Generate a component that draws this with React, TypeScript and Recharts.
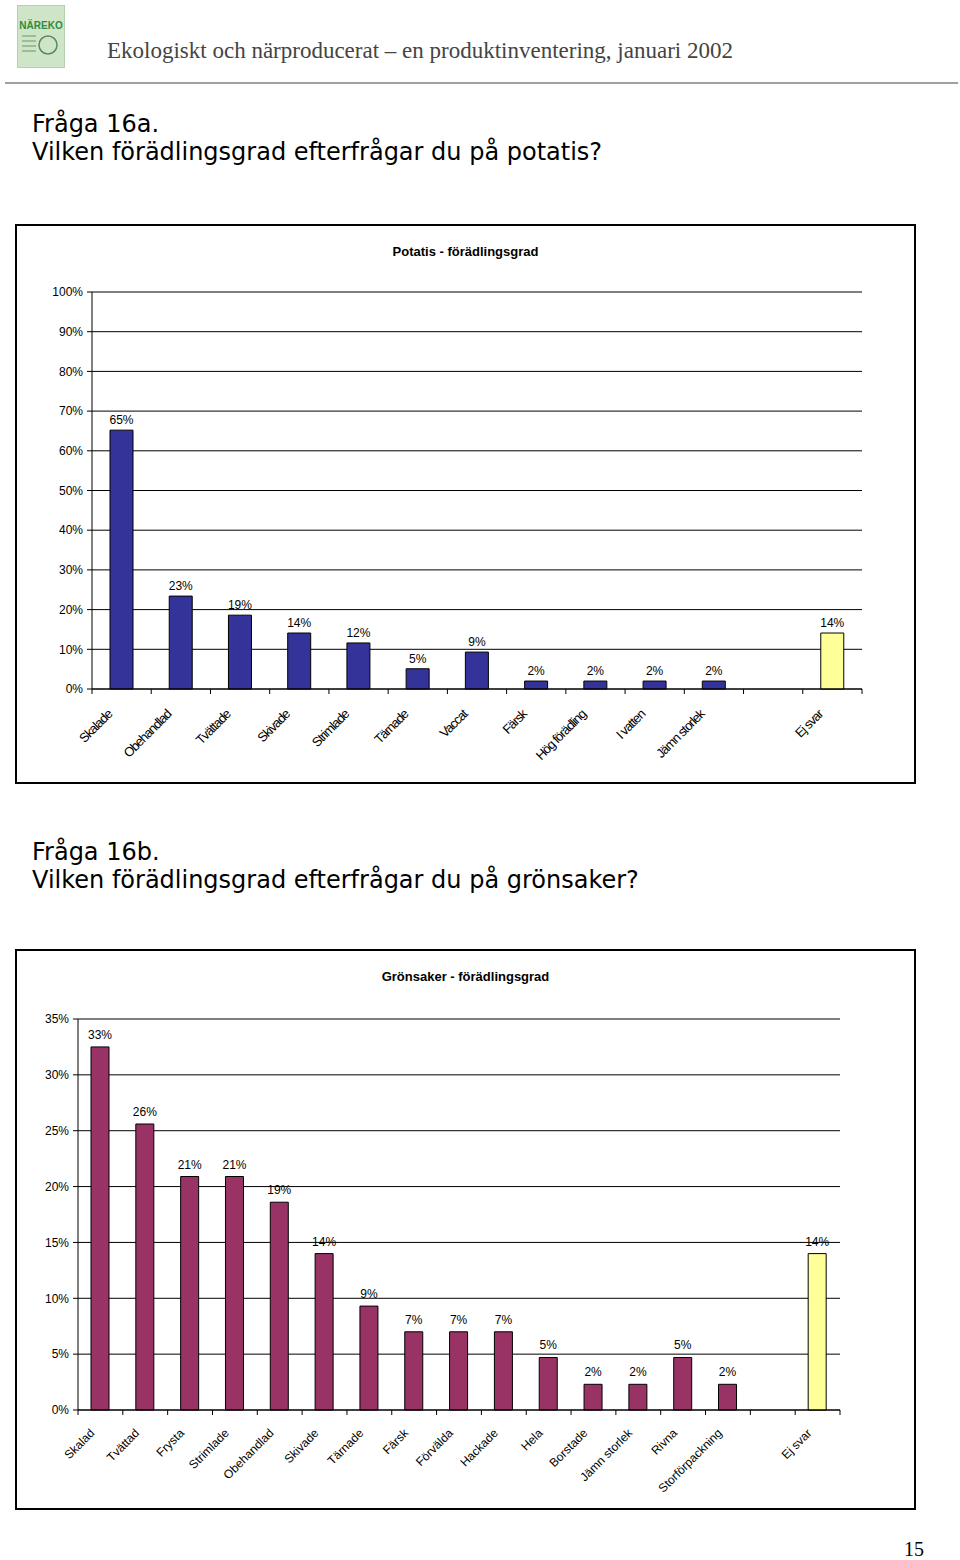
import React from 'react'
import {
  BarChart,
  Bar,
  XAxis,
  YAxis,
  CartesianGrid,
  Cell,
  LabelList,
  ReferenceLine,
} from 'recharts'

const potatisCategories = [
  'Skalade', 'Obehandlad', 'Tvättade', 'Skivade', 'Strimlade', 'Tärnade', 'Vaccat',
  'Färsk', 'Hög förädling', 'I vatten', 'Jämn storlek', '', 'Ej svar',
]
const potatisValues = [65.2, 23.4, 18.6, 14.1, 11.6, 5.1, 9.3, 2.0, 2.0, 2.0, 2.0, null, 14.1]
const potatisTicks = [0, 10, 20, 30, 40, 50, 60, 70, 80, 90, 100]

const gronsakerCategories = [
  'Skalad', 'Tvättad', 'Frysta', 'Strimlade', 'Obehandlad', 'Skivade', 'Tärnade', 'Färsk',
  'Förvälda', 'Hackade', 'Hela', 'Borstade', 'Jämn storlek', 'Rivna', 'Storförpackning', '', 'Ej svar',
]
const gronsakerValues = [32.5, 25.6, 20.9, 20.9, 18.6, 14.0, 9.3, 7.0, 7.0, 7.0, 4.7, 2.3, 2.3, 4.7, 2.3, null, 14.0]
const gronsakerTicks = [0, 5, 10, 15, 20, 25, 30, 35]

const NAVY = '#333399'
const PLUM = '#993366'
const PALE = '#FFFF99'
const FONT = '"Liberation Sans", Arial, sans-serif'
const HEAD_FONT = '"DejaVu Sans", Verdana, sans-serif'
const SERIF = '"Liberation Serif", "Times New Roman", serif'

const pct = (v: any) => (v == null ? '' : `${Math.round(Number(v))}%`)

function makeTick(step: number, count: number, opts: { dx: number; dy: number; size: number; spacing: number }) {
  return (props: any) => {
    const { x, y, payload, index } = props
    const left = x - step / 2
    return (
      <g>
        <line x1={left} y1={y} x2={left} y2={y + 5} stroke="#000" />
        {index === count - 1 && <line x1={x + step / 2} y1={y} x2={x + step / 2} y2={y + 5} stroke="#000" />}
        <text
          x={x + opts.dx}
          y={y + opts.dy}
          textAnchor="end"
          dominantBaseline="central"
          transform={`rotate(-45 ${x + opts.dx} ${y + opts.dy})`}
          fontSize={opts.size}
          fontFamily={FONT}
          letterSpacing={opts.spacing}
          fill="#000"
        >
          {payload.value}
        </text>
      </g>
    )
  }
}

type ChartProps = {
  categories: string[]
  values: (number | null)[]
  ticks: number[]
  color: string
  title: string
  top: number
  boxHeight: number
  margin: { top: number; right: number }
  yWidth: number
  xHeight: number
  barSize: number
  labelOffset: number
  tickOpts: { dx: number; dy: number; size: number; spacing: number }
}

function FrameChart(p: ChartProps) {
  const data = p.categories.map((name, i) => ({ name, value: p.values[i] }))
  const w = 897
  const h = p.boxHeight - 4
  const plotW = w - p.yWidth - p.margin.right
  const step = plotW / p.categories.length
  const maxY = p.ticks[p.ticks.length - 1]
  return (
    <div
      style={{
        position: 'absolute',
        left: 15,
        top: p.top,
        width: 901,
        height: p.boxHeight,
        border: '2px solid #000',
        boxSizing: 'border-box',
        background: '#fff',
      }}
    >
      <div
        style={{
          position: 'absolute',
          left: 0,
          width: 897,
          top: 18,
          textAlign: 'center',
          fontFamily: FONT,
          fontWeight: 'bold',
          fontSize: 13,
        }}
      >
        {p.title}
      </div>
      <BarChart width={w} height={h} data={data} margin={{ top: p.margin.top, right: p.margin.right, left: 0, bottom: 0 }}>
        <CartesianGrid vertical={false} stroke="#000" />
        <XAxis
          dataKey="name"
          interval={0}
          height={p.xHeight}
          tickSize={0}
          tickMargin={0}
          axisLine={{ stroke: '#000' }}
          tickLine={false}
          tick={makeTick(step, p.categories.length, p.tickOpts)}
        />
        <YAxis
          width={p.yWidth}
          domain={[0, maxY]}
          ticks={p.ticks}
          tickFormatter={(v: number) => `${v}%`}
          axisLine={{ stroke: '#000' }}
          tickLine={{ stroke: '#000' }}
          tickSize={5}
          tickMargin={4}
          tick={{ fontSize: 12, fontFamily: FONT, fill: '#000' }}
          interval={0}
        />
        <YAxis
          yAxisId="frame"
          orientation="right"
          width={0}
          domain={[0, maxY]}
          tick={false}
          tickLine={false}
          axisLine={{ stroke: '#808080' }}
        />
        <ReferenceLine y={maxY} stroke="#808080" />
        <Bar dataKey="value" barSize={p.barSize} stroke="#000" strokeWidth={1} isAnimationActive={false}>
          {data.map((d, i) => (
            <Cell key={`c-${i}`} fill={d.name === 'Ej svar' ? PALE : p.color} />
          ))}
          <LabelList
            dataKey="value"
            position="top"
            offset={p.labelOffset}
            formatter={pct}
            fill="#000"
            fontSize={12}
            fontFamily={FONT}
          />
        </Bar>
      </BarChart>
    </div>
  )
}

export default function App() {
  return (
    <div style={{ position: 'absolute', left: 0, top: 0, width: 960, height: 1560, background: '#fff' }}>
      <div
        style={{
          position: 'absolute',
          left: 17,
          top: 5,
          width: 48,
          height: 63,
          background: '#cfe5c8',
          border: '1px solid #b6d0ae',
          boxSizing: 'border-box',
        }}
      >
        <div style={{ fontFamily: FONT, fontWeight: 'bold', fontSize: 10, color: '#2e8b3c', textAlign: 'center', marginTop: 14 }}>
          NÄREKO
        </div>
        <svg width={46} height={30} style={{ display: 'block' }}>
          <circle cx={30} cy={14} r={9} fill="none" stroke="#5a8a5a" strokeWidth={1.5} />
          <rect x={4} y={4} width={14} height={2} fill="#9bbf95" />
          <rect x={4} y={9} width={14} height={2} fill="#9bbf95" />
          <rect x={4} y={14} width={14} height={2} fill="#9bbf95" />
          <rect x={4} y={19} width={14} height={2} fill="#9bbf95" />
        </svg>
      </div>
      <div
        style={{
          position: 'absolute',
          left: 107,
          top: 38,
          fontFamily: SERIF,
          fontSize: 23,
          color: '#444',
          whiteSpace: 'nowrap',
        }}
      >
        Ekologiskt och närproducerat – en produktinventering, januari 2002
      </div>
      <div style={{ position: 'absolute', left: 5, top: 82, width: 953, height: 2, background: '#a0a0a0' }} />

      <div style={{ position: 'absolute', left: 32, top: 110, fontFamily: HEAD_FONT, fontSize: 24, lineHeight: '28px', whiteSpace: 'nowrap' }}>
        Fråga 16a.
        <br />
        Vilken förädlingsgrad efterfrågar du på potatis?
      </div>

      <FrameChart
        categories={potatisCategories}
        values={potatisValues}
        ticks={potatisTicks}
        color={NAVY}
        title="Potatis - förädlingsgrad"
        top={224}
        boxHeight={560}
        margin={{ top: 66, right: 52 }}
        yWidth={75}
        xHeight={93}
        barSize={23}
        labelOffset={6}
        tickOpts={{ dx: -12, dy: 23, size: 13, spacing: -1 }}
      />

      <div style={{ position: 'absolute', left: 32, top: 838, fontFamily: HEAD_FONT, fontSize: 24, lineHeight: '28px', whiteSpace: 'nowrap' }}>
        Fråga 16b.
        <br />
        Vilken förädlingsgrad efterfrågar du på grönsaker?
      </div>

      <FrameChart
        categories={gronsakerCategories}
        values={gronsakerValues}
        ticks={gronsakerTicks}
        color={PLUM}
        title="Grönsaker - förädlingsgrad"
        top={949}
        boxHeight={561}
        margin={{ top: 68, right: 74 }}
        yWidth={61}
        xHeight={98}
        barSize={18}
        labelOffset={8}
        tickOpts={{ dx: -8, dy: 21, size: 12, spacing: 0 }}
      />

      <div style={{ position: 'absolute', left: 904, top: 1538, fontFamily: SERIF, fontSize: 20 }}>
        15
      </div>
    </div>
  )
}
